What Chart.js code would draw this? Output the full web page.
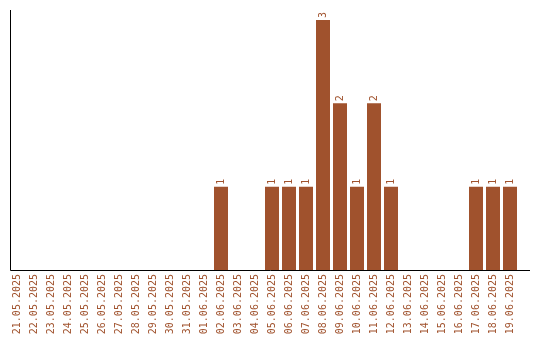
<!DOCTYPE html>
<html>
<head>
<meta charset="utf-8">
<script src="https://cdn.jsdelivr.net/npm/chart.js@4"></script>
<style>
  html, body { margin: 0; padding: 0; background: #fff; }
  #wrap { width: 540px; height: 340px; }
</style>
</head>
<body>
<div id="wrap"><canvas id="chart" width="540" height="340"></canvas></div>
<script>
// Dates (categories)
const days = [
    '21.05.2025', '22.05.2025', '23.05.2025', '24.05.2025', '25.05.2025',
    '26.05.2025', '27.05.2025', '28.05.2025', '29.05.2025', '30.05.2025',
    '31.05.2025', '01.06.2025', '02.06.2025', '03.06.2025', '04.06.2025',
    '05.06.2025', '06.06.2025', '07.06.2025', '08.06.2025', '09.06.2025',
    '10.06.2025', '11.06.2025', '12.06.2025', '13.06.2025', '14.06.2025',
    '15.06.2025', '16.06.2025', '17.06.2025', '18.06.2025', '19.06.2025'
];
// Count per day
const counts = [
    0, 0, 0, 0, 0,
    0, 0, 0, 0, 0,
    0, 0, 1, 0, 0,
    1, 1, 1, 3, 2,
    1, 2, 1, 0, 0,
    0, 0, 1, 1, 1
];

const barColor = '#a0522d';
const monoFont = '"DejaVu Sans Mono", "Liberation Mono", monospace';

// Draws the count above each bar, rotated like the day labels
const valueLabels = {
    id: 'valueLabels',
    afterDatasetsDraw(chart) {
        const ctx = chart.ctx;
        const meta = chart.getDatasetMeta(0);
        ctx.save();
        ctx.fillStyle = barColor;
        ctx.font = '10px ' + monoFont;
        ctx.textAlign = 'left';
        ctx.textBaseline = 'middle';
        meta.data.forEach((bar, i) => {
            if (!counts[i]) return;
            ctx.save();
            ctx.translate(bar.x, bar.y - 2);
            ctx.rotate(-Math.PI / 2);
            ctx.fillText(String(counts[i]), 0, 0);
            ctx.restore();
        });
        ctx.restore();
    }
};

// Axis lines
const axisLines = {
    id: 'axisLines',
    afterDraw(chart) {
        const ctx = chart.ctx;
        const base = Math.round(chart.scales.y.getPixelForValue(0)) + 0.5;
        ctx.save();
        ctx.strokeStyle = '#000';
        ctx.lineWidth = 1;
        ctx.beginPath();
        ctx.moveTo(10.5, 10);
        ctx.lineTo(10.5, base);
        ctx.lineTo(530, base);
        ctx.stroke();
        ctx.restore();
    }
};

new Chart(document.querySelector('#chart'), {
    type: 'bar',
    data: {
        labels: days,
        datasets: [{
            data: counts,
            backgroundColor: barColor,
            borderWidth: 0,
            barPercentage: 14 / 17,
            categoryPercentage: 1
        }]
    },
    options: {
        responsive: false,
        animation: false,
        layout: { padding: { left: 8.5, right: 21.5, top: 20, bottom: 0 } },
        plugins: {
            legend: { display: false },
            tooltip: { enabled: false }
        },
        scales: {
            x: {
                grid: { display: false, drawTicks: false },
                border: { display: false },
                afterFit: (scale) => { scale.height = 70; },
                ticks: {
                    autoSkip: false,
                    minRotation: 90,
                    maxRotation: 90,
                    padding: 4,
                    color: barColor,
                    font: { family: monoFont, size: 10 }
                }
            },
            y: {
                display: false,
                min: 0,
                max: 3
            }
        }
    },
    plugins: [valueLabels, axisLines]
});
</script>
</body>
</html>
